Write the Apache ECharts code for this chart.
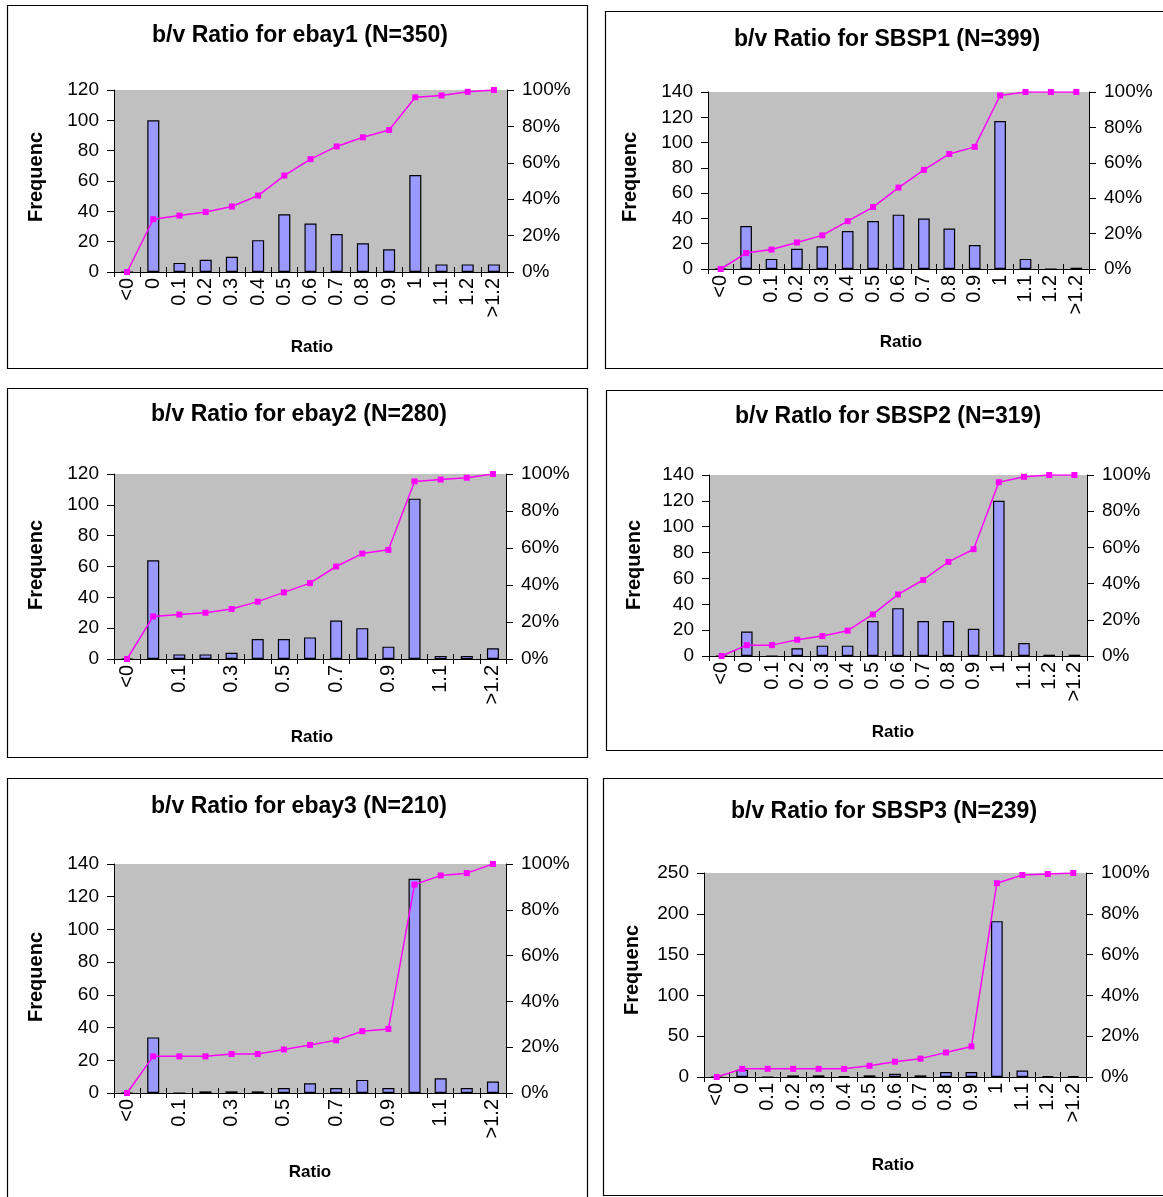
<!DOCTYPE html>
<html><head><meta charset="utf-8">
<script src="https://cdn.jsdelivr.net/npm/echarts@6/dist/echarts.min.js"></script>
<style>html,body{margin:0;padding:0;background:#fff}#c{width:1163px;height:1197px}</style>
</head><body><div id="c"></div>
<script>
const categories = ['<0','0','0.1','0.2','0.3','0.4','0.5','0.6','0.7','0.8','0.9','1','1.1','1.2','>1.2'];
const pctTicks = [0, 20, 40, 60, 80, 100];

const ebay1Freq = [0,100,6,8,10,21,38,32,25,19,15,64,5,5,5];
const ebay1Cum  = [0,29,31,33,36,42,53,62,69,74,78,96,97,99,100];
const ebay2Freq = [0,64,3,3,4,13,13,14,25,20,8,104,2,2,7];
const ebay2Cum  = [0,23,24,25,27,31,36,41,50,57,59,96,97,98,100];
const ebay3Freq = [0,34,0,1,1,1,3,6,3,8,3,131,9,3,7];
const ebay3Cum  = [0,16,16,16,17,17,19,21,23,27,28,91,95,96,100];
const sbsp1Freq = [0,34,8,16,18,30,38,43,40,32,19,117,8,0,1];
const sbsp1Cum  = [0,9,11,15,19,27,35,46,56,65,69,98,100,100,100];
const sbsp2Freq = [0,19,0,6,8,8,27,37,27,27,21,120,10,1,1];
const sbsp2Cum  = [0,6,6,9,11,14,23,34,42,52,59,96,99,100,100];
const sbsp3Freq = [0,9,0,2,2,1,2,4,2,6,6,191,8,1,1];
const sbsp3Cum  = [0,4,4,4,4,4,5.5,7.5,9,12,15,95,99,99.5,100];

const titles = ['b/v Ratio for ebay1 (N=350)','b/v Ratio for SBSP1 (N=399)','b/v Ratio for ebay2 (N=280)',
                'b/v RatIo for SBSP2 (N=319)','b/v Ratio for ebay3 (N=210)','b/v Ratio for SBSP3 (N=239)'];
const freqMax = [120, 140, 120, 140, 140, 250];
const freqStep = [20, 20, 20, 20, 20, 50];
const labelStep = [0, 0, 1, 0, 1, 0];
const freqData = [ebay1Freq, sbsp1Freq, ebay2Freq, sbsp2Freq, ebay3Freq, sbsp3Freq];
const cumData = [ebay1Cum, sbsp1Cum, ebay2Cum, sbsp2Cum, ebay3Cum, sbsp3Cum];

// layout (pixels)
const grids = [
  {left:114, top:90,  width:393, height:182},
  {left:708, top:92,  width:381, height:177},
  {left:114, top:474, width:392, height:185},
  {left:709, top:475, width:378, height:181},
  {left:114, top:864, width:392, height:229},
  {left:704, top:873, width:382, height:204}
];
const boxes = [
  [7,5,580,363],[605,11,600,357],[7,388,580,369],[606,390,600,360],[7,778,580,430],[603,778,600,417]
];
const titlePos = [[300,36],[887,40],[299,415],[888,417],[299,807],[884,812]];
const ratioPos = [[312,347],[901,342],[312,737],[893,732],[310,1172],[893,1165]];
const freqPos = [[36,177],[630,177],[36,565],[634,565],[36,977],[632,970]];

const FONT = "'Liberation Sans', Arial, sans-serif";
const grid = [], xAxis = [], yAxis = [], series = [], graphic = [];
for (let i = 0; i < 6; i++) {
  grid.push(Object.assign({show:true, backgroundColor:'#C0C0C0', borderWidth:0, containLabel:false, outerBoundsMode:'none'}, grids[i]));
  xAxis.push({type:'category', gridIndex:i, data:categories, position:'bottom', boundaryGap:true,
    axisLine:{show:true, lineStyle:{color:'#000', width:1}},
    axisTick:{show:true, inside:false, length:5, interval:0, lineStyle:{color:'#000'}},
    axisLabel:{rotate:90, interval:labelStep[i], margin:6, color:'#000', fontSize:20, fontFamily:FONT},
    splitLine:{show:false}});
  xAxis.push({type:'category', gridIndex:i, data:categories, position:'bottom', boundaryGap:true,
    axisLine:{show:false}, axisLabel:{show:false}, splitLine:{show:false},
    axisTick:{show:true, inside:true, length:5, interval:0, lineStyle:{color:'#000'}}});
  yAxis.push({type:'value', gridIndex:i, min:0, max:freqMax[i], interval:freqStep[i], position:'left',
    axisLine:{show:true, lineStyle:{color:'#000'}},
    axisTick:{show:true, length:7, lineStyle:{color:'#000'}},
    axisLabel:{color:'#000', fontSize:19, fontFamily:FONT, margin:15},
    splitLine:{show:false}});
  yAxis.push({type:'value', gridIndex:i, min:pctTicks[0], max:pctTicks[pctTicks.length-1], interval:pctTicks[1]-pctTicks[0], position:'right',
    axisLine:{show:true, lineStyle:{color:'#000'}},
    axisTick:{show:true, length:7, lineStyle:{color:'#000'}},
    axisLabel:{color:'#000', fontSize:19, fontFamily:FONT, margin:15, formatter:'{value}%'},
    splitLine:{show:false}});
  series.push({type:'bar', xAxisIndex:2*i, yAxisIndex:2*i, data:freqData[i], barWidth:'46%',
    itemStyle:{color:'#9999FF', borderColor:'#000', borderWidth:1.2}, silent:true, animation:false});
  series.push({type:'line', xAxisIndex:2*i, yAxisIndex:2*i+1, data:cumData[i], symbol:'rect', symbolSize:6,
    lineStyle:{color:'#FF00FF', width:1.5}, itemStyle:{color:'#FF00FF'}, silent:true, animation:false, z:5});
  const b = boxes[i];
  graphic.push({type:'rect', shape:{x:b[0]+0.5, y:b[1]+0.5, width:b[2], height:b[3]}, style:{fill:null, stroke:'#000', lineWidth:1.2}, silent:true});
  graphic.push({type:'text', x:titlePos[i][0], y:titlePos[i][1], style:{text:titles[i], font:"bold 23px "+FONT, fill:'#000', textAlign:'center', textVerticalAlign:'middle'}});
  graphic.push({type:'text', x:ratioPos[i][0], y:ratioPos[i][1], style:{text:'Ratio', font:"bold 17px "+FONT, fill:'#000', textAlign:'center', textVerticalAlign:'middle'}});
  graphic.push({type:'text', x:freqPos[i][0], y:freqPos[i][1], rotation:Math.PI/2, style:{text:'Frequenc', font:"bold 20px "+FONT, fill:'#000', textAlign:'center', textVerticalAlign:'middle'}});
}

const chart = echarts.init(document.getElementById('c'), null, {renderer:'canvas'});
chart.setOption({animation:false, backgroundColor:'#fff', grid, xAxis, yAxis, series, graphic});
</script>
</body></html>
